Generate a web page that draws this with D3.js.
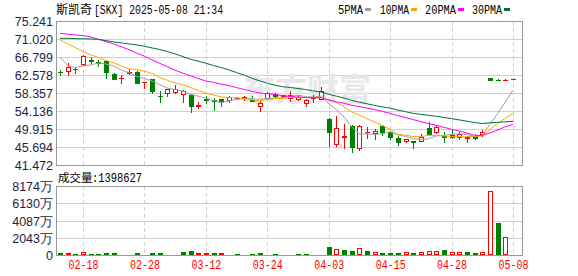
<!DOCTYPE html>
<html>
<head>
<meta charset="utf-8">
<script src="https://cdn.jsdelivr.net/npm/d3@7/dist/d3.min.js"></script>
<style>
body { margin: 0; background: #fff; }
svg { display: block; }
</style>
</head>
<body>
<svg id="chart" width="578" height="276"></svg>
<script>
// trading days, 2025-02-12 .. 2025-05-08
var dates = ["02-12","02-13","02-14","02-18","02-19","02-20","02-21","02-24","02-25","02-26","02-27","02-28",
  "03-03","03-04","03-05","03-06","03-07","03-10","03-11","03-12","03-13","03-14","03-17","03-18","03-19","03-20","03-21",
  "03-24","03-25","03-26","03-27","03-28","03-31",
  "04-01","04-02","04-03","04-04","04-07","04-08","04-09","04-10","04-11","04-14","04-15","04-16","04-17",
  "04-21","04-22","04-23","04-24","04-25","04-28","04-29","04-30",
  "05-01","05-02","05-05","05-06","05-07","05-08"];

var open = [63.31,63.62,63.97,65.10,66.12,65.61,65.80,62.84,61.83,63.00,63.39,60.89,
  61.59,57.77,58.32,58.55,58.16,58.00,55.28,56.99,56.60,56.99,56.76,57.07,57.30,56.76,55.20,
  57.15,58.16,57.72,57.15,56.91,55.98,
  57.15,56.99,52.31,46.39,48.10,50.67,45.45,49.12,48.96,50.67,49.12,47.71,47.09,
  47.01,47.09,50.21,49.27,48.18,48.41,48.03,47.79,
  48.33,48.81,61.91,61.48,61.36,61.59];
var high = [63.77,65.34,64.56,67.36,66.74,66.04,65.88,63.00,62.61,64.09,63.54,60.97,
  61.67,58.94,59.33,60.19,59.02,58.16,56.13,57.54,57.07,56.99,57.62,57.38,57.69,57.62,56.37,
  58.63,58.47,57.95,58.87,57.93,56.91,
  57.85,59.72,52.47,52.86,51.14,50.91,50.91,50.37,49.90,50.83,49.35,48.18,47.63,
  47.17,48.81,51.61,50.91,49.20,49.74,49.20,48.18,
  48.81,49.74,61.95,61.70,61.70,61.72];
var low = [62.61,62.61,63.15,64.87,65.34,64.79,61.83,61.67,60.81,62.84,60.66,59.64,
  58.32,56.13,57.69,58.47,56.13,53.80,54.73,55.98,54.42,55.36,56.13,56.91,56.76,56.37,54.03,
  56.91,57.15,57.50,56.37,56.60,55.36,
  56.21,56.91,45.84,45.84,45.37,44.44,45.06,47.71,47.63,48.49,47.56,46.23,46.85,
  45.37,47.01,48.57,48.96,46.78,47.79,47.63,46.78,
  47.63,48.33,61.45,61.30,61.30,61.55];
var close = [63.23,64.40,64.05,67.05,65.96,65.49,63.23,61.75,61.98,63.31,60.81,60.97,
  58.71,57.69,59.25,59.30,58.94,55.20,55.43,56.76,56.45,56.52,57.38,57.15,57.46,56.37,55.98,
  58.40,57.69,57.80,57.93,57.38,56.76,
  57.23,58.87,49.12,50.13,48.26,45.61,50.52,49.27,49.51,49.12,47.95,46.78,47.55,
  46.86,48.03,48.81,50.29,48.03,48.10,48.65,48.03,
  47.79,49.20,61.52,61.36,61.44,61.67];
// volume, in 万 shares
var volume = [260,250,160,330,150,140,250,240,170,160,180,150,
  250,260,170,160,360,470,250,240,230,240,160,150,140,160,240,
  150,140,130,140,150,160,
  130,150,950,670,590,470,790,470,350,240,250,240,350,
  240,350,470,460,590,350,360,340,
  240,350,7550,3790,2100,139.8627];
var lastVolume = "1398627";

var ma5 = [66.74,64.79,64.32,64.71,64.94,65.39,65.16,64.70,63.68,63.15,62.22,61.76,
  61.16,60.30,59.49,59.18,58.78,58.08,57.62,57.13,56.56,56.07,56.51,56.85,56.99,56.98,56.87,
  57.07,57.18,57.25,57.56,57.84,57.51,
  57.42,57.63,55.87,54.42,52.72,50.40,48.73,48.76,48.63,48.81,49.27,48.53,48.18,
  47.65,47.43,47.61,48.31,48.40,48.65,48.78,48.62,
  48.12,48.35,51.04,53.58,56.26,59.04];
var ma10 = [70.80,69.90,69.00,68.10,67.30,66.70,66.00,65.40,64.70,64.05,63.80,63.46,
  62.93,61.99,61.32,60.70,60.27,59.62,58.96,58.31,57.87,57.43,57.29,57.24,57.06,56.77,56.47,
  56.79,57.02,57.12,57.27,57.35,57.29,
  57.30,57.44,56.72,56.13,55.12,53.91,53.18,52.32,51.53,50.76,49.84,48.63,48.47,
  48.14,48.12,48.44,48.42,48.29,48.15,48.11,48.11,
  48.21,48.38,49.85,51.18,52.44,53.58];
var ma20 = [72.36,72.15,71.97,71.85,71.50,70.95,70.41,69.85,69.20,68.50,67.70,67.00,
  66.10,65.30,64.50,63.70,63.00,62.40,61.75,61.17,60.83,60.44,60.11,59.61,59.19,58.73,58.37,
  58.20,57.99,57.71,57.57,57.39,57.29,
  57.27,57.25,56.74,56.30,55.95,55.46,55.15,54.79,54.44,54.03,53.57,53.03,52.59,
  52.13,51.62,51.17,50.80,50.30,49.84,49.43,48.97,
  48.42,48.42,48.99,49.65,50.44,51.00];
var ma30 = [71.19,71.19,71.11,71.07,71.03,70.95,70.64,70.33,70.09,69.86,69.63,69.31,
  68.93,68.54,68.07,67.52,66.90,66.27,65.81,65.34,64.79,64.32,63.78,63.15,62.53,61.83,61.20,
  60.66,60.19,59.82,59.65,59.41,59.17,
  58.84,58.60,58.06,57.62,57.17,56.63,56.20,55.82,55.43,55.11,54.79,54.37,53.98,
  53.58,53.34,53.12,52.90,52.62,52.34,52.05,51.75,
  51.43,51.19,51.37,51.47,51.60,51.72];

var dateTicks = ["02-18","02-28","03-12","03-24","04-03","04-15","04-28","05-08"];
var priceTicks = ["75.241","71.020","66.799","62.578","58.357","54.136","49.915","45.694","41.472"];
var volTicks = [8174, 6130, 4087, 2043, 0];
var volTickLabels = ["8174万","6130万","4087万","2043万","0"];

var maNames = ["5PMA","10PMA","20PMA","30PMA"];
var maColors = ["#a0a0a0","#ffa500","#ff00ff","#00703c"];
var maSeries = [ma5, ma10, ma20, ma30];

var upColor = "#ff0000";
var downColor = "#008000";
var axisText = "#1e1e46";

var left = 56, right = 522;
var priceTop = 21, priceBottom = 165;
var volTop = 186, volBottom = 255;

var svg = d3.select("#chart");

var x = d3.scalePoint().domain(dates).range([60, 513]);
var y = d3.scaleLinear().domain([+priceTicks[priceTicks.length - 1], +priceTicks[0]]).range([priceBottom, priceTop]);
var yv = d3.scaleLinear().domain([0, volTicks[0]]).range([volBottom, volTop]);

function px(v) { return Math.round(v) + 0.5; }

function styleAxis(g, scale) {
  g.select(".domain").remove();
  g.selectAll(".tick").attr("transform", function (d) { return "translate(0," + Math.round(scale(d)) + ")"; });
  g.selectAll(".tick line").attr("stroke", "#d0d0d0").attr("y1", 0.5).attr("y2", 0.5)
    .attr("shape-rendering", "crispEdges");
  g.selectAll("text").attr("fill", axisText).attr("font-family", "'Liberation Sans', Arial, sans-serif")
    .attr("font-size", "12.5px").attr("dy", "0.36em");
}

// horizontal grid + price labels
var yAxis = d3.axisLeft(y)
  .tickValues(priceTicks.map(Number))
  .tickFormat(function (d, i) { return priceTicks[i]; })
  .tickSize(-(right - left))
  .tickPadding(3);
var gy = svg.append("g").attr("transform", "translate(" + left + ",0)").call(yAxis);
styleAxis(gy, y);

var vAxis = d3.axisLeft(yv)
  .tickValues(volTicks)
  .tickFormat(function (d, i) { return volTickLabels[i]; })
  .tickSize(-(right - left))
  .tickPadding(3);
var gv = svg.append("g").attr("transform", "translate(" + left + ",0)").call(vAxis);
styleAxis(gv, yv);

// vertical dashed grid at date ticks
[[priceTop, priceBottom], [volTop, volBottom]].forEach(function (r) {
  svg.append("g").selectAll("line").data(dateTicks).join("line")
    .attr("x1", function (d) { return px(x(d)); })
    .attr("x2", function (d) { return px(x(d)); })
    .attr("y1", r[0]).attr("y2", r[1])
    .attr("stroke", "#cfcfcf").attr("stroke-dasharray", "4,3")
    .attr("shape-rendering", "crispEdges");
});

// date labels
var xAxis = d3.axisBottom(x).tickValues(dateTicks).tickSize(0).tickPadding(5.5);
var gx = svg.append("g").attr("transform", "translate(0," + volBottom + ")").call(xAxis);
gx.select(".domain").remove();
gx.selectAll("text").attr("fill", upColor)
  .attr("font-family", "'Liberation Mono', monospace").attr("font-size", "12px")
  .attr("textLength", 30).attr("lengthAdjust", "spacingAndGlyphs");

// watermark
svg.append("text").attr("x", 243).attr("y", 101)
  .attr("font-family", "'Noto Sans CJK SC', sans-serif").attr("font-weight", "bold")
  .attr("font-size", "32px").attr("fill", "#e8e8e8").text("东方财富");

// panel borders
[[priceTop, priceBottom], [volTop, volBottom]].forEach(function (r) {
  svg.append("rect").attr("x", left + 0.5).attr("y", r[0] + 0.5)
    .attr("width", right - left).attr("height", r[1] - r[0])
    .attr("fill", "none").attr("stroke", "#999").attr("shape-rendering", "crispEdges");
});

var bars = dates.map(function (d, i) {
  return { date: d, o: open[i], h: high[i], l: low[i], c: close[i], v: volume[i],
    prev: i > 0 ? close[i - 1] : open[i] };
});

// candles: colour from close vs open
var cg = svg.append("g").attr("shape-rendering", "crispEdges");
bars.forEach(function (d) {
  var cx = px(x(d.date));
  var col = d.c >= d.o ? upColor : downColor;
  cg.append("line").attr("x1", cx).attr("x2", cx)
    .attr("y1", Math.round(y(d.h))).attr("y2", Math.round(y(d.l)) + 1)
    .attr("stroke", col);
  var yo = Math.round(y(d.o)), yc = Math.round(y(d.c));
  if (Math.abs(yo - yc) < 1) {
    cg.append("line").attr("x1", cx - 2.5).attr("x2", cx + 2.5)
      .attr("y1", yc + 0.5).attr("y2", yc + 0.5).attr("stroke", col);
  } else if (d.c > d.o) {
    cg.append("rect").attr("x", cx - 2).attr("y", yc + 0.5)
      .attr("width", 4).attr("height", yo - yc)
      .attr("fill", "#fff").attr("stroke", col);
  } else {
    cg.append("rect").attr("x", cx - 2.5).attr("y", yo)
      .attr("width", 5).attr("height", yc - yo + 1)
      .attr("fill", col);
  }
});

// moving averages
var line = d3.line()
  .x(function (d, i) { return x(dates[i]); })
  .y(function (d) { return y(d); });
svg.append("g").selectAll("path").data(maSeries).join("path")
  .attr("d", line)
  .attr("fill", "none")
  .attr("stroke", function (d, i) { return maColors[i]; })
  .attr("stroke-width", 1);

// volume bars: colour from close vs previous close
var vg = svg.append("g").attr("shape-rendering", "crispEdges");
bars.forEach(function (d) {
  var cx = px(x(d.date));
  var top = Math.round(yv(d.v));
  if (top > volBottom - 1) top = volBottom - 1;
  if (d.c >= d.prev) {
    vg.append("rect").attr("x", cx - 2).attr("y", top + 0.5)
      .attr("width", 4).attr("height", volBottom - top - 1)
      .attr("fill", "#fff").attr("stroke", upColor);
  } else {
    vg.append("rect").attr("x", cx - 2.5).attr("y", top)
      .attr("width", 5).attr("height", volBottom - top)
      .attr("fill", downColor);
  }
});

// title
svg.append("text").attr("x", 56).attr("y", 14).attr("fill", "#000")
  .attr("font-family", "'Noto Sans CJK SC', sans-serif").attr("font-size", "12px")
  .text("斯凯奇");
svg.append("text").attr("x", 94).attr("y", 14).attr("fill", "#000")
  .attr("font-family", "'Liberation Mono', monospace").attr("font-size", "12px")
  .attr("textLength", 129).attr("lengthAdjust", "spacingAndGlyphs")
  .text("[SKX] 2025-05-08 21:34");

// legend
var legendX = [338, 380, 425, 472];
var legendW = [25, 29, 31, 30];
maNames.forEach(function (n, i) {
  svg.append("text").attr("x", legendX[i]).attr("y", 14)
    .attr("font-family", "'Liberation Mono', monospace").attr("font-size", "12px")
    .attr("textLength", legendW[i]).attr("lengthAdjust", "spacingAndGlyphs")
    .attr("fill", "#000").text(n);
  svg.append("rect").attr("x", legendX[i] + legendW[i] + 2).attr("y", 8)
    .attr("width", 6).attr("height", 3).attr("fill", maColors[i]);
});

// volume caption
svg.append("text").attr("x", 58).attr("y", 182).attr("fill", "#000")
  .attr("font-family", "'Noto Sans CJK SC', sans-serif").attr("font-size", "11.5px").text("成交量");
svg.append("text").attr("x", 92).attr("y", 182).attr("fill", "#000")
  .attr("font-family", "'Liberation Mono', monospace").attr("font-size", "12px")
  .attr("textLength", 50).attr("lengthAdjust", "spacingAndGlyphs")
  .text(":" + lastVolume);
</script>
</body>
</html>
